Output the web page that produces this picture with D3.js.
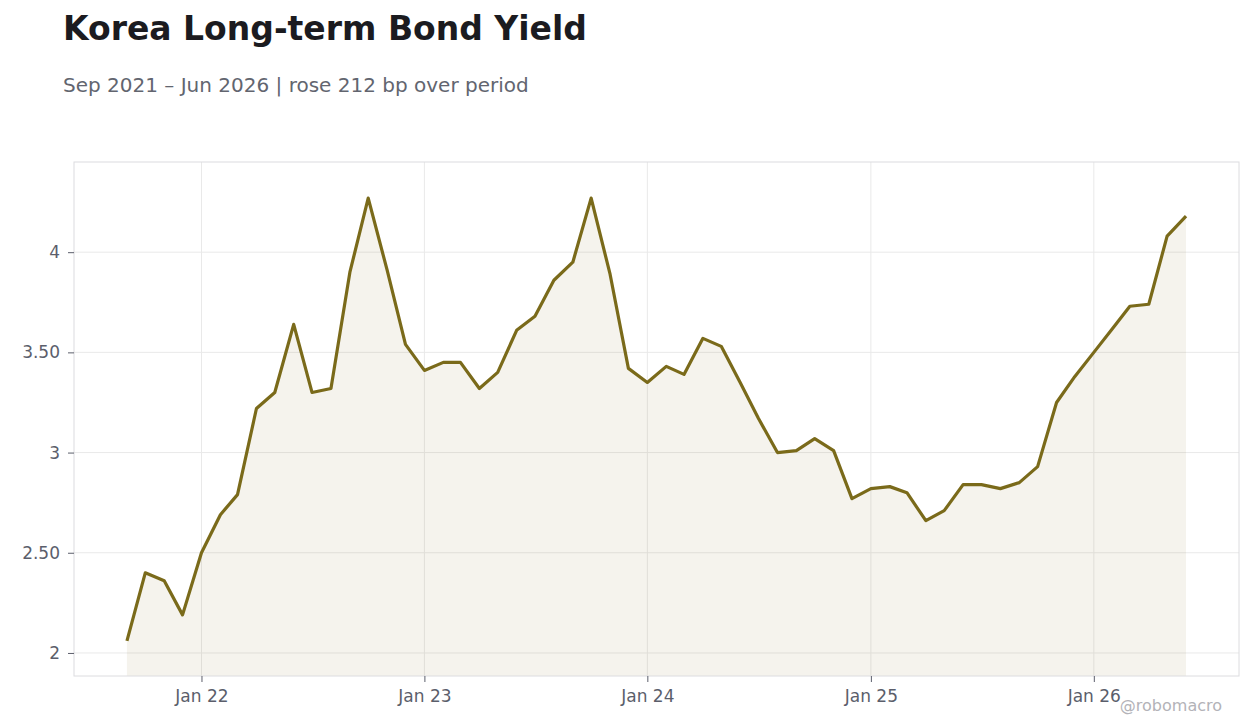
<!DOCTYPE html>
<html lang="en">
<head>
  <meta charset="UTF-8">
  <title>Korea Long-term Bond Yield</title>
  <script src="https://d3js.org/d3.v7.min.js"></script>
  <style>
    body {
      margin: 0;
      background: #fff;
      font-family: "DejaVu Sans", sans-serif;
    }
    .axis text {
      font-size: 17px;
      fill: #5b5e6b;
      font-family: "DejaVu Sans", sans-serif;
    }
    .axis line {
      stroke: #5b5e6b;
    }
    .axis path {
      display: none;
    }
    .grid line {
      stroke: #e9e9e9;
      stroke-width: 1;
    }
  </style>
</head>
<body>
<div id="chart"></div>

<script>
  // Monthly observations, Sep 2021 - Jun 2026 (yield, %)
  const startMonth = "2021-09";
  const yields = [
    2.06, 2.40, 2.36, 2.19, 2.50, 2.69, 2.79, 3.22, 3.30, 3.64, 3.30, 3.32,
    3.90, 4.27, 3.91, 3.54, 3.41, 3.45, 3.45, 3.32, 3.40, 3.61, 3.68, 3.86,
    3.95, 4.27, 3.89, 3.42, 3.35, 3.43, 3.39, 3.57, 3.53, 3.35, 3.17, 3.00,
    3.01, 3.07, 3.01, 2.77, 2.82, 2.83, 2.80, 2.66, 2.71, 2.84, 2.84, 2.82,
    2.85, 2.93, 3.25, 3.38, 3.50, 3.62, 3.73, 3.74, 4.08, 4.18
  ];
  const yTicks = [2, 2.5, 3, 3.5, 4];
  const yTickLabels = ["2", "2.50", "3", "3.50", "4"];
  const xTicks = ["2022-01", "2023-01", "2024-01", "2025-01", "2026-01"];
  const xTickLabels = ["Jan 22", "Jan 23", "Jan 24", "Jan 25", "Jan 26"];

  const title = "Korea Long-term Bond Yield";
  const subtitle = "Sep 2021 \u2013 Jun 2026 | rose 212 bp over period";
  const credit = "@robomacro";

  const width = 1260;
  const height = 728;
  const margin = {top: 162, right: 21, bottom: 52, left: 74};
  const innerW = width - margin.left - margin.right;
  const innerH = height - margin.top - margin.bottom;

  const parseMonth = d3.timeParse("%Y-%m");
  const start = parseMonth(startMonth);
  const data = yields.map((v, i) => ({date: d3.timeMonth.offset(start, i), value: v}));

  const svg = d3.select("#chart")
    .append("svg")
    .attr("width", width)
    .attr("height", height);

  // titles
  svg.append("text")
    .attr("x", 63).attr("y", 40)
    .attr("font-size", 33).attr("font-weight", "bold")
    .attr("fill", "#1b1b20")
    .text(title);
  svg.append("text")
    .attr("x", 63).attr("y", 92)
    .attr("font-size", 20)
    .attr("fill", "#62656f")
    .text(subtitle);

  // scales, 5% padding on x
  const t0 = data[0].date, t1 = data[data.length - 1].date;
  const pad = (t1 - t0) * 0.05;
  const x = d3.scaleTime()
    .domain([new Date(+t0 - pad), new Date(+t1 + pad)])
    .range([0, innerW]);
  const y = d3.scaleLinear()
    .domain([1.885, 4.45])
    .range([innerH, 0]);

  const g = svg.append("g").attr("transform", `translate(${margin.left},${margin.top})`);

  // grid
  g.append("g").attr("class", "grid")
    .selectAll("line.h").data(yTicks).join("line")
    .attr("x1", 0).attr("x2", innerW)
    .attr("y1", d => y(d)).attr("y2", d => y(d));
  g.append("g").attr("class", "grid")
    .selectAll("line.v").data(xTicks).join("line")
    .attr("x1", d => x(parseMonth(d))).attr("x2", d => x(parseMonth(d)))
    .attr("y1", 0).attr("y2", innerH);

  // area + line
  const area = d3.area()
    .x(d => x(d.date))
    .y0(innerH)
    .y1(d => y(d.value));
  g.append("path")
    .datum(data)
    .attr("d", area)
    .attr("fill", "#7a6a1a")
    .attr("fill-opacity", 0.08);

  const line = d3.line()
    .x(d => x(d.date))
    .y(d => y(d.value));
  g.append("path")
    .datum(data)
    .attr("d", line)
    .attr("fill", "none")
    .attr("stroke", "#7a6a1a")
    .attr("stroke-width", 3.2)
    .attr("stroke-linejoin", "round");

  // frame
  g.append("rect")
    .attr("x", 0).attr("y", 0)
    .attr("width", innerW).attr("height", innerH)
    .attr("fill", "none")
    .attr("stroke", "#dcdcdf");

  // axes
  g.append("g")
    .attr("class", "axis")
    .attr("transform", `translate(0,${innerH})`)
    .call(d3.axisBottom(x)
      .tickValues(xTicks.map(parseMonth))
      .tickFormat((d, i) => xTickLabels[i])
      .tickSize(6)
      .tickPadding(8));

  g.append("g")
    .attr("class", "axis")
    .call(d3.axisLeft(y)
      .tickValues(yTicks)
      .tickFormat((d, i) => yTickLabels[i])
      .tickSize(6)
      .tickPadding(8));

  svg.append("text")
    .attr("x", 1222).attr("y", 711)
    .attr("text-anchor", "end")
    .attr("font-size", 16)
    .attr("fill", "#b3b3b8")
    .text(credit);
</script>
</body>
</html>
